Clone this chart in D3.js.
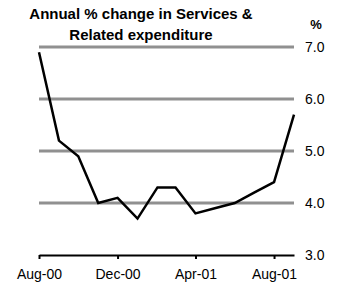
<!DOCTYPE html>
<html>
<head>
<meta charset="utf-8">
<script src="https://cdn.jsdelivr.net/npm/d3@7"></script>
<style>
  body { margin: 0; background: #fff; }
  text { font-family: Arial, "Liberation Sans", sans-serif; }
</style>
</head>
<body>
<svg id="chart" width="339" height="285"></svg>
<script>
// monthly data, Aug-00 .. Sep-01
var months = ["2000-08","2000-09","2000-10","2000-11","2000-12","2001-01","2001-02",
              "2001-03","2001-04","2001-05","2001-06","2001-07","2001-08","2001-09"];
var values = [6.9, 5.2, 4.9, 4.0, 4.1, 3.7, 4.3, 4.3, 3.8, 3.9, 4.0, 4.2, 4.4, 5.7];
var xTicks = ["2000-08","2000-12","2001-04","2001-08"];
var yTicks = [3, 4, 5, 6, 7];
var titleLines = ["Annual % change in Services &", "Related expenditure"];

var parse = d3.timeParse("%Y-%m");
var data = months.map(function(m, i) { return {date: parse(m), value: values[i]}; });

var svg = d3.select("#chart");
var plotLeft = 39, plotRight = 294, plotTop = 47, plotBottom = 255;

var x = d3.scaleTime()
	.domain([parse(months[0]), parse(months[months.length - 1])])
	.range([plotLeft, plotRight]);
var y = d3.scaleLinear().domain([3, 7]).range([plotBottom, plotTop]);

// gridlines
svg.append("g").selectAll("line")
	.data(yTicks.slice(1))
	.enter().append("line")
		.attr("x1", plotLeft).attr("x2", plotRight)
		.attr("y1", function(d) { return y(d); })
		.attr("y2", function(d) { return y(d); })
		.attr("stroke", "#909090")
		.attr("stroke-width", 3);

// right axis labels
var yAxis = svg.append("g")
	.attr("transform", "translate(" + (plotRight + 11) + ",0)")
	.call(d3.axisRight(y).tickValues(yTicks).tickFormat(d3.format(".1f")).tickSize(0).tickPadding(0));
yAxis.select(".domain").remove();
yAxis.selectAll("text").attr("font-size", 14).attr("fill", "#000").attr("font-family", null);

// bottom axis
var xAxis = svg.append("g")
	.attr("transform", "translate(0," + plotBottom + ")")
	.call(d3.axisBottom(x).tickValues(xTicks.map(parse)).tickFormat(d3.timeFormat("%b-%y")).tickSizeOuter(0).tickSizeInner(4).tickPadding(10));
xAxis.select(".domain").attr("stroke", "#000").attr("stroke-width", 2);
xAxis.selectAll(".tick line").attr("stroke", "#000").attr("stroke-width", 2);
xAxis.selectAll("text").attr("font-size", 14).attr("fill", "#000").attr("font-family", null);

// series line
var line = d3.line()
	.x(function(d) { return x(d.date); })
	.y(function(d) { return y(d.value); });
svg.append("path")
	.datum(data)
	.attr("d", line)
	.attr("fill", "none")
	.attr("stroke", "#000")
	.attr("stroke-width", 2.5)
	.attr("stroke-linejoin", "miter");

// title
svg.append("text")
	.attr("x", 141).attr("y", 19)
	.attr("text-anchor", "middle")
	.attr("font-size", 15).attr("font-weight", "bold")
	.selectAll("tspan")
	.data(titleLines)
	.enter().append("tspan")
		.attr("x", 141)
		.attr("dy", function(d, i) { return i ? 21 : 0; })
		.text(function(d) { return d; });

svg.append("text")
	.attr("x", 316).attr("y", 29)
	.attr("text-anchor", "middle")
	.attr("font-size", 13).attr("font-weight", "bold")
	.text("%");
</script>
</body>
</html>
